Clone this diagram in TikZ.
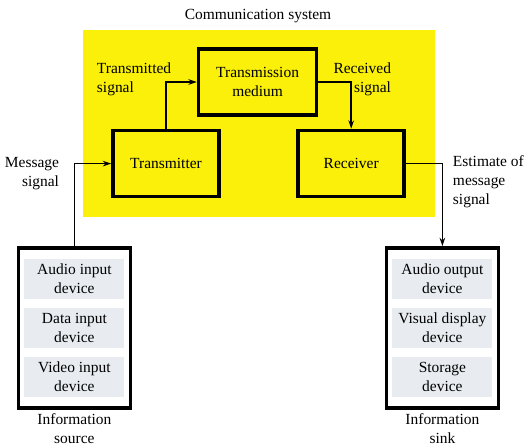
\documentclass[tikz,border=0pt]{standalone}
\usepackage{fontspec}
\setmainfont{Liberation Serif}
\usetikzlibrary{arrows.meta}

\definecolor{sysyellow}{RGB}{250,240,10}
\definecolor{panelgray}{RGB}{232,236,240}

\begin{document}
\begin{tikzpicture}[every node/.style={font=\fontsize{11}{13.5}\selectfont,align=center},
    block/.style={draw,line width=2.6pt,minimum width=2.65cm,minimum height=1.65cm},
    frame/.style={draw,line width=2.6pt,minimum width=2.8cm,minimum height=4cm},
    panel/.style={fill=panelgray,minimum width=2.5cm,minimum height=1cm,inner sep=0},
    sig/.style={line width=1.2pt,-{Stealth[length=6pt,width=4pt]}}]
        \useasboundingbox (0,0) rectangle (13.1,11.2);
        \fill[sysyellow] (2.075,5.775) rectangle (10.875,10.45);
        \node (title) at (6.45,10.8) {Communication system};
        \node[block,minimum width=2.95cm] (med) at (6.44,9.15) {Transmission\\medium};
        \node[block] (tx) at (4.15,7.11) {Transmitter};
        \node[block] (rx) at (8.78,7.11) {Receiver};
        % information source and sink
        \node[frame] (src) at (1.86,3.0) {};
        \node[frame] (snk) at (11.06,3.0) {};
        \node[panel] (src1) at (1.86,4.22) {Audio input\\device};
        \node[panel] (src2) at (1.86,3.01) {Data input\\device};
        \node[panel] (src3) at (1.86,1.78) {Video input\\device};
        \node[panel] (snk1) at (11.06,4.22) {Audio output\\device};
        \node[panel] (snk2) at (11.06,3.01) {Visual display\\device};
        \node[panel] (snk3) at (11.06,1.78) {Storage\\device};
        \node[inner sep=0] (srclab) at (1.86,0.48) {Information\\source};
        \node[inner sep=0] (snklab) at (11.06,0.48) {Information\\sink};
        % signal labels
        \node[anchor=west,align=left] (txsig) at (2.3,9.21) {Transmitted\\signal};
        \node[anchor=east,align=right] (rxsig) at (9.9,9.21) {Received\\signal};
        \node[anchor=east,align=right] (msg) at (1.6,6.85) {Message\\signal};
        \node[anchor=west,align=left] (est) at (11.2,6.65) {Estimate of\\message\\signal};
        \draw[sig] (src.north) |- (tx.west);
        \draw[sig] (tx.north) |- (med.west);
        \draw[sig] (med.east) -| (rx.north);
        \draw[sig] (rx.east) -| (snk.north);
      \end{tikzpicture}
\end{document}
